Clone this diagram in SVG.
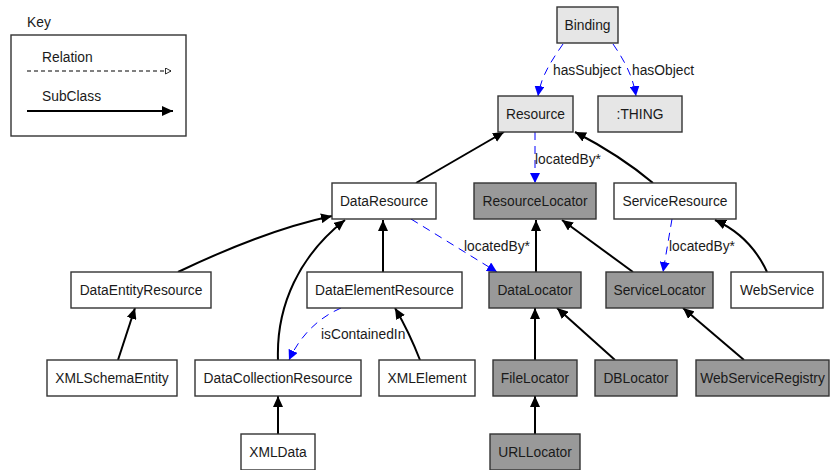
<svg xmlns="http://www.w3.org/2000/svg" width="831" height="470" viewBox="0 0 831 470">
  <style>
    text { font-family: "Liberation Sans", Arial, sans-serif; font-size: 13.8px; fill: #1a1a1a; }
    .node rect { stroke: #333; stroke-width: 1.4; }
    .plain rect { fill: #ffffff; }
    .top rect { fill: #e6e6e6; }
    .loc rect { fill: #999999; }
    .node text { text-anchor: middle; dominant-baseline: central; }
    .sub { fill: none; stroke: #000; stroke-width: 2; marker-end: url(#solidHead); }
    .rel { fill: none; stroke: #0000ff; stroke-width: 1; stroke-dasharray: 8 6; marker-end: url(#blueHead); }
  </style>
  <defs>
    <marker id="solidHead" markerUnits="userSpaceOnUse" markerWidth="12" markerHeight="10" refX="11" refY="5" orient="auto">
      <path d="M0,0 L11,5 L0,10 z" fill="#000"/>
    </marker>
    <marker id="blueHead" markerUnits="userSpaceOnUse" markerWidth="11" markerHeight="10" refX="10" refY="5" orient="auto">
      <path d="M0,0 L10,5 L0,10 z" fill="#0000ff"/>
    </marker>
    <marker id="openHead" markerUnits="userSpaceOnUse" markerWidth="8" markerHeight="8" refX="6" refY="3.5" orient="auto">
      <path d="M0.5,0.5 L6,3.5 L0.5,6.5 z" fill="#fff" stroke="#000" stroke-width="0.8"/>
    </marker>
  </defs>

  <!-- Legend -->
  <g id="key">
    <text x="27" y="27">Key</text>
    <rect x="11" y="35" width="175" height="101" fill="#fff" stroke="#333" stroke-width="1.4"/>
    <text x="42" y="62">Relation</text>
    <line x1="27" y1="71" x2="171" y2="71" stroke="#000" stroke-width="1" stroke-dasharray="4 3" marker-end="url(#openHead)"/>
    <text x="42" y="101">SubClass</text>
    <line x1="27" y1="111" x2="173" y2="111" stroke="#000" stroke-width="2" marker-end="url(#solidHead)"/>
  </g>

  <!-- Connectors -->
  <g id="edges">
    <path class="rel" d="M563,44 C552,60 541,76 538,96"/>
    <path class="rel" d="M613,44 C624,60 633,76 636,96"/>
    <path class="rel" d="M535,132 L535,183"/>
    <path class="rel" d="M411,219 L497,272"/>
    <path class="rel" d="M672,219 L663,272"/>
    <path class="rel" d="M341,308 C318,318 300,336 289,360"/>

    <path class="sub" d="M416,183 L504,132"/>
    <path class="sub" d="M653,183 C628,162 602,146 575,132"/>
    <path class="sub" d="M178,272 C224,250 280,227 332,216"/>
    <path class="sub" d="M278,360 C276,305 300,255 345,220"/>
    <path class="sub" d="M383,272 L383,220"/>
    <path class="sub" d="M536,272 L536,220"/>
    <path class="sub" d="M633,272 L562,220"/>
    <path class="sub" d="M767,272 C756,248 737,230 715,220"/>
    <path class="sub" d="M118,360 L135,308"/>
    <path class="sub" d="M420,360 C413,342 405,325 395,308"/>
    <path class="sub" d="M278,434 L278,396"/>
    <path class="sub" d="M535,360 L535,308"/>
    <path class="sub" d="M615,360 L557,308"/>
    <path class="sub" d="M744,360 L683,308"/>
    <path class="sub" d="M535,434 L535,396"/>
  </g>

  <!-- Edge labels -->
  <g id="edge-labels">
    <text x="553" y="75">hasSubject</text>
    <text x="632" y="75">hasObject</text>
    <text x="535" y="164">locatedBy*</text>
    <text x="464" y="251">locatedBy*</text>
    <text x="669" y="251">locatedBy*</text>
    <text x="321" y="339">isContainedIn</text>
  </g>

  <!-- Nodes -->
  <g id="Binding" class="node top"><rect x="557" y="7" width="61" height="36"/><text x="587.5" y="25">Binding</text></g>
  <g id="Resource" class="node top"><rect x="498" y="96" width="75" height="36"/><text x="535.5" y="114">Resource</text></g>
  <g id="THING" class="node top"><rect x="598" y="96" width="84" height="36"/><text x="640" y="114">:THING</text></g>

  <g id="DataResource" class="node plain"><rect x="332" y="183" width="104" height="36"/><text x="384" y="201">DataResource</text></g>
  <g id="ResourceLocator" class="node loc"><rect x="474" y="183" width="122" height="36"/><text x="535" y="201">ResourceLocator</text></g>
  <g id="ServiceResource" class="node plain"><rect x="614" y="183" width="122" height="36"/><text x="675" y="201">ServiceResource</text></g>

  <g id="DataEntityResource" class="node plain"><rect x="71" y="272" width="140" height="36"/><text x="141" y="290">DataEntityResource</text></g>
  <g id="DataElementResource" class="node plain"><rect x="307" y="272" width="155" height="36"/><text x="384.5" y="290">DataElementResource</text></g>
  <g id="DataLocator" class="node loc"><rect x="489" y="272" width="92" height="36"/><text x="535" y="290">DataLocator</text></g>
  <g id="ServiceLocator" class="node loc"><rect x="606" y="272" width="107" height="36"/><text x="659.5" y="290">ServiceLocator</text></g>
  <g id="WebService" class="node plain"><rect x="731" y="272" width="92" height="36"/><text x="777" y="290">WebService</text></g>

  <g id="XMLSchemaEntity" class="node plain"><rect x="47" y="360" width="130" height="36"/><text x="112" y="378">XMLSchemaEntity</text></g>
  <g id="DataCollectionResource" class="node plain"><rect x="195" y="360" width="166" height="36"/><text x="278" y="378">DataCollectionResource</text></g>
  <g id="XMLElement" class="node plain"><rect x="379" y="360" width="96" height="36"/><text x="427" y="378">XMLElement</text></g>
  <g id="FileLocator" class="node loc"><rect x="493" y="360" width="84" height="36"/><text x="535" y="378">FileLocator</text></g>
  <g id="DBLocator" class="node loc"><rect x="595" y="360" width="82" height="36"/><text x="636" y="378">DBLocator</text></g>
  <g id="WebServiceRegistry" class="node loc"><rect x="696" y="360" width="133" height="36"/><text x="762.5" y="378">WebServiceRegistry</text></g>

  <g id="XMLData" class="node plain"><rect x="241" y="434" width="74" height="36"/><text x="278" y="452">XMLData</text></g>
  <g id="URLLocator" class="node loc"><rect x="490" y="434" width="90" height="36"/><text x="535" y="452">URLLocator</text></g>
</svg>
